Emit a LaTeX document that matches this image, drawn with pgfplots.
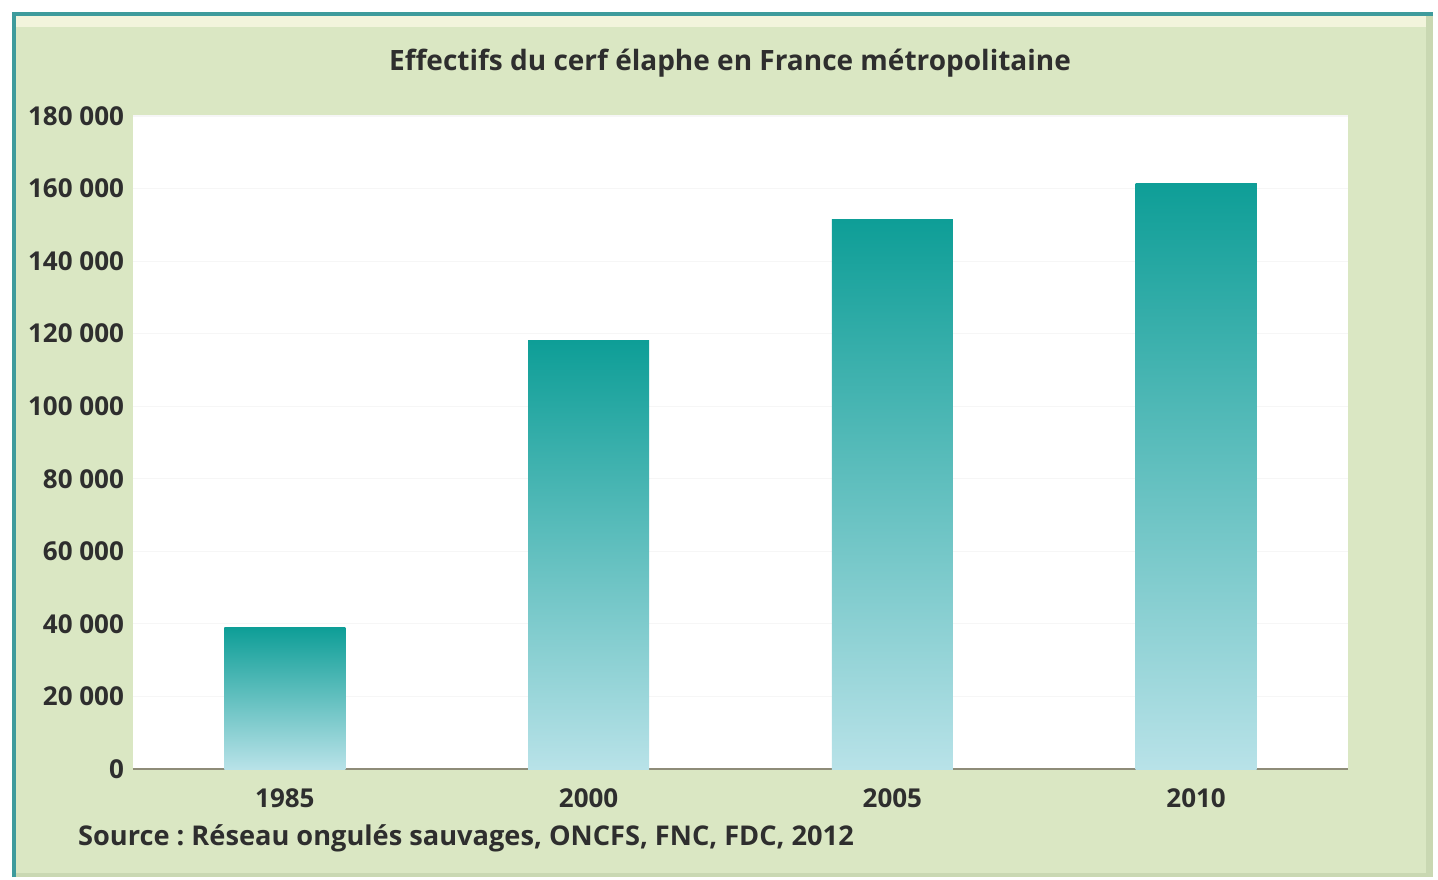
\documentclass[border=0pt]{standalone}
\usepackage{pgfplots}
\pgfplotsset{compat=1.18}
\usepackage{fontspec}
\setmainfont{Open Sans}
\definecolor{panel}{HTML}{DAE7C3}
\definecolor{panelshade}{HTML}{C9D8B2}
\definecolor{cream}{HTML}{F2F4DC}
\definecolor{frame}{HTML}{3E9B9C}
\definecolor{bartop}{HTML}{0E9E97}
\definecolor{barmid}{HTML}{4EBDBA}
\definecolor{barbot}{HTML}{B8E2E8}
\definecolor{txt}{HTML}{2E2E2E}
\definecolor{axisline}{HTML}{8E8C78}
\frenchspacing
\begin{document}
\begin{tikzpicture}[x=1pt,y=1pt]
\path[use as bounding box] (-66.5,-55) rectangle (652.5,384.5);
% panel
\fill[panelshade] (-60.5,-54) rectangle (650,378);
\fill[panel] (-60.5,-52) rectangle (646.5,378);
\fill[cream] (-60.5,371) rectangle (646.5,376.5);
\draw[frame, line width=2pt] (-59.5,-54) -- (-59.5,377.5) -- (650,377.5);
\begin{axis}[
  scale only axis,
  width=607.5pt, height=326.5pt,
  xmin=-0.5, xmax=3.5, ymin=0, ymax=180000,
  ybar, bar width=60.5pt, bar shift=0pt,
  axis background/.style={fill=white},
  axis x line*=bottom, axis y line*=left,
  x axis line style={draw=axisline, line width=1pt},
  y axis line style={draw=none},
  xtick={0,1,2,3}, xticklabels={1985,2000,2005,2010},
  major x tick style={draw=none},
  extra x ticks={-0.5,0.5,1.5,2.5,3.5},
  extra x tick labels={},
  extra x tick style={tick style={draw=axisline, line width=0.8pt}, major tick length=4pt, xtick align=outside},
  ytick={0,20000,...,180000},
  major y tick style={draw=none},
  scaled y ticks=false,
  yticklabels={0,20 000,40 000,60 000,80 000,100 000,120 000,140 000,160 000,180 000},
  ymajorgrids, grid style={draw=gray!7, line width=0.6pt},
  tick label style={font=\fontsize{13}{15}\selectfont\bfseries, text=txt},
  xticklabel style={yshift=-2pt},
  yticklabel style={xshift=-1pt},
  every axis plot/.append style={draw=none, top color=bartop, middle color=barmid, bottom color=barbot, bar shift=0pt},
]
\addplot coordinates {(0,39000)};
\addplot coordinates {(1,118000)};
\addplot coordinates {(2,151500)};
\addplot coordinates {(3,161500)};
\end{axis}
\node[font=\fontsize{14}{16}\selectfont\bfseries, text=txt] at (298.5,353) {Effectifs du cerf élaphe en France métropolitaine};
\node[font=\fontsize{13.6}{16}\selectfont\bfseries, text=txt, anchor=west] at (-31,-34.5) {Source : Réseau ongulés sauvages, ONCFS, FNC, FDC, 2012};
\end{tikzpicture}
\end{document}
